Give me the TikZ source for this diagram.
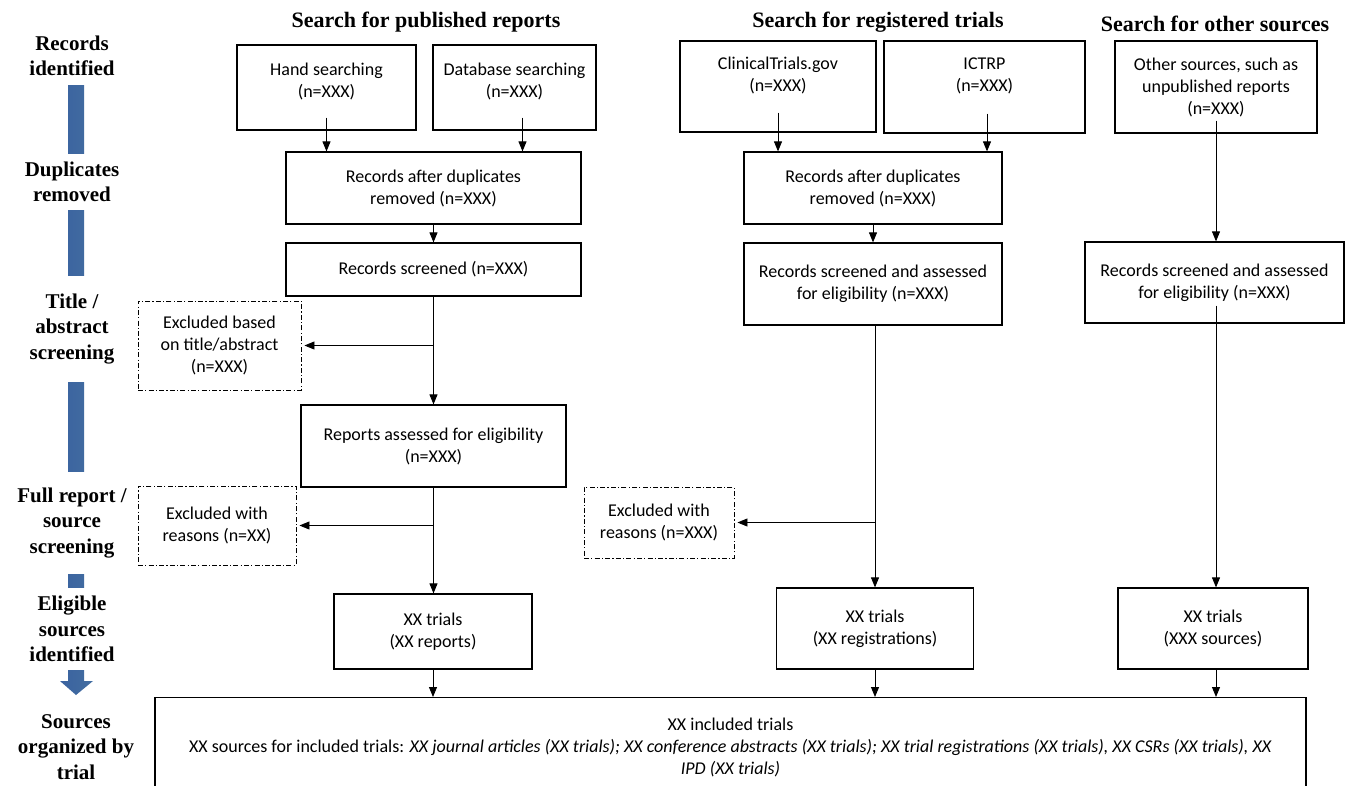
\documentclass[tikz,border=0pt]{standalone}
\usepackage{fontspec}
\setmainfont{Carlito}
\newfontfamily\headfont{Liberation Serif}
\usepackage{tikz}
\usetikzlibrary{arrows.meta,positioning,calc}
\definecolor{barblue}{HTML}{4F81BD}
\definecolor{bardark}{HTML}{3A62A0}

\begin{document}
\begin{tikzpicture}[x=1pt,y=-1pt,
    box/.style={draw, line width=1.2pt, align=center, inner sep=0pt, font=\fontsize{18}{22}\selectfont},
    exbox/.style={box, line width=0.9pt, dash pattern=on 5pt off 2.2pt on 1.2pt off 2.2pt},
    heading/.style={font=\headfont\bfseries\fontsize{22}{26}\selectfont},
    phase/.style={align=center, fill=white, inner xsep=2pt, inner ysep=8pt, font=\headfont\bfseries\fontsize{21}{25.5}\selectfont},
    flow/.style={-{Triangle[length=10pt,width=8pt]}, line width=0.9pt}]
                \useasboundingbox (0,0) rectangle (1352,785);
                % Stage arrow on the left (the labels sit on top of it)
                \shade[left color=bardark, middle color=barblue, right color=barblue!85!black]
                    (68,85) -- (84,85) -- (84,681) -- (93,681) -- (76,695) -- (60,681) -- (68,681) -- cycle;
                \node[phase] (recid) at (72,56) {Records\\identified};
                \node[phase] (dupr) at (72,182) {Duplicates\\removed};
                \node[phase, inner ysep=18pt] (tiab) at (72,329) {Title /\\abstract\\screening};
                \node[phase, inner ysep=16pt] (full) at (72,523) {Full report /\\source\\screening};
                \node[phase] (elig) at (72,629) {Eligible\\sources\\identified};
                \node[phase] (org) at (76,747) {Sources\\organized by\\trial};

                % Column headings
                \node[heading] (hpub) at (426,22) {Search for published reports};
                \node[heading] (hreg) at (878,22) {Search for registered trials};
                \node[heading] (hoth) at (1215,24) {Search for other sources};

                % Published reports
                \node[box, minimum width=179, minimum height=85, text depth=14pt] (hand) at (326.5,87.5) {Hand searching\\(n=XXX)};
                \node[box, minimum width=163, minimum height=85, text depth=14pt] (db) at (514.5,87.5) {Database searching\\(n=XXX)};
                \node[box, minimum width=295, minimum height=72] (dupA) at (433.5,188) {Records after duplicates\\removed (n=XXX)};
                \node[box, minimum width=295, minimum height=53] (scrA) at (433.5,269.5) {Records screened (n=XXX)};
                \node[exbox, minimum width=163, minimum height=89] (exA) at (219.5,345.5) {Excluded based\\on title/abstract\\(n=XXX)};
                \node[box, minimum width=265, minimum height=82] (repA) at (433.5,446) {Reports assessed for eligibility\\(n=XXX)};
                \node[exbox, minimum width=158, minimum height=79] (exB) at (217,525.5) {Excluded with\\reasons (n=XX)};
                \node[box, minimum width=198, minimum height=75] (trA) at (433,631.5) {XX trials\\(XX reports)};

                % Registered trials
                \node[box, minimum width=196, minimum height=91, text depth=24pt] (clin) at (778,86.5) {ClinicalTrials.gov\\(n=XXX)};
                \node[box, minimum width=201, minimum height=92, text depth=24pt] (ictrp) at (984.5,87) {ICTRP\\(n=XXX)};
                \node[box, minimum width=258, minimum height=72] (dupB) at (873,188) {Records after duplicates\\removed (n=XXX)};
                \node[box, minimum width=258, minimum height=82] (scrB) at (873,284) {Records screened and assessed\\for eligibility (n=XXX)};
                \node[exbox, minimum width=150, minimum height=71] (exC) at (659,522.5) {Excluded with\\reasons (n=XXX)};
                \node[box, minimum width=197, minimum height=81] (trB) at (875,628.5) {XX trials\\(XX registrations)};

                % Other sources
                \node[box, minimum width=202, minimum height=92] (oth) at (1216,87) {Other sources, such as\\unpublished reports\\(n=XXX)};
                \node[box, minimum width=259, minimum height=81] (scrC) at (1214.5,282.5) {Records screened and assessed\\for eligibility (n=XXX)};
                \node[box, minimum width=190, minimum height=81] (trC) at (1213,628.5) {XX trials\\(XXX sources)};

                % Included trials
                \node[box, anchor=north, minimum width=1151, minimum height=100] (incl) at (730.5,697)
                    {XX included trials\\
                     XX sources for included trials: \textit{XX journal articles (XX trials); XX conference abstracts (XX trials); XX trial registrations (XX trials), XX CSRs (XX trials), XX}\\
                     \textit{IPD (XX trials)}};

                % Connectors
                \draw[flow] ([yshift=13pt]hand.south) -- (hand.south |- dupA.north);
                \draw[flow] ([xshift=8pt,yshift=13pt]db.south) -- ([xshift=8pt]db.south |- dupA.north);
                \draw[flow] (dupA.south) -- (scrA.north);
                \draw[flow] (scrA.south) -- (scrA.south |- repA.north);
                \draw[flow, shorten >=3pt] (scrA.south |- exA.east) -- (exA.east);
                \draw[flow] (repA.south) -- (repA.south |- trA.north);
                \draw[flow, shorten >=3pt] (repA.south |- exB.east) -- (exB.east);
                \draw[flow] (trA.south) -- (trA.south |- incl.north);

                \draw[flow] ([yshift=20pt]clin.south) -- (clin.south |- dupB.north);
                \draw[flow] ([xshift=2.5pt,yshift=20pt]ictrp.south) -- ([xshift=2.5pt]ictrp.south |- dupB.north);
                \draw[flow] (dupB.south) -- (dupB.south |- scrB.north);
                \draw[flow] ([xshift=2pt]scrB.south) -- ([xshift=2pt]scrB.south |- trB.north);
                \draw[flow, shorten >=3pt] ([xshift=2pt]scrB.south |- exC.east) -- (exC.east);
                \draw[flow] (trB.south) -- (trB.south |- incl.north);

                \draw[flow] ([yshift=13pt]oth.south) -- (oth.south |- scrC.north);
                \draw[flow] ([xshift=1.5pt,yshift=18pt]scrC.south) -- ([xshift=1.5pt]scrC.south |- trC.north);
                \draw[flow] ([xshift=3pt]trC.south) -- ([xshift=3pt]trC.south |- incl.north);
\end{tikzpicture}
\end{document}
